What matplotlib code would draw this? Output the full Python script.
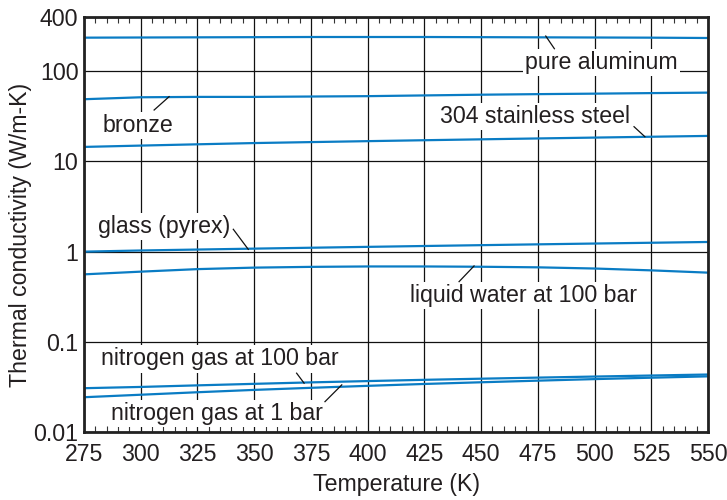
import numpy as np
import matplotlib
matplotlib.use("Agg")
import matplotlib.pyplot as plt
from matplotlib.ticker import FixedLocator, MultipleLocator, NullLocator

plt.rcParams['font.family'] = ['Liberation Sans', 'DejaVu Sans']

# temperature grid (K)
temps = [275, 300, 325, 350, 375, 400, 425, 450, 475, 500, 525, 550]

# thermal conductivity (W/m-K)
aluminum = [236, 237, 238, 239, 240, 240, 240, 239, 238, 237, 236, 234]
bronze = [49, 51.5, 52, 52, 52.5, 53, 54, 55, 55.8, 56.5, 57.3, 58]
steel_304 = [14.5, 15.0, 15.5, 16.0, 16.4, 16.8, 17.2, 17.6, 18.0, 18.4, 18.8, 19.2]
pyrex = [1.0, 1.03, 1.055, 1.08, 1.105, 1.13, 1.155, 1.18, 1.205, 1.23, 1.255, 1.28]
water_100bar = [0.56, 0.60, 0.64, 0.665, 0.678, 0.685, 0.685, 0.68, 0.67, 0.65, 0.62, 0.585]
n2_100bar = [0.0306, 0.0316, 0.0329, 0.0342, 0.0355, 0.0367, 0.0379, 0.0390, 0.0401, 0.0412, 0.0423, 0.0434]
n2_1bar = [0.0243, 0.0259, 0.0276, 0.0293, 0.0309, 0.0325, 0.0341, 0.0356, 0.0371, 0.0386, 0.0400, 0.0414]

series = [aluminum, bronze, steel_304, pyrex, water_100bar, n2_100bar, n2_1bar]

x_ticks = [275, 300, 325, 350, 375, 400, 425, 450, 475, 500, 525, 550]
y_ticks = [0.01, 0.1, 1, 10, 100, 400]
y_tick_labels = ['0.01', '0.1', '1', '10', '100', '400']

blue = '#0a7cc4'
txt = '#231f20'
fs = 16.7

fig = plt.figure(figsize=(7.27, 5.00), dpi=100)
ax = fig.add_axes([84/727, 1-432/500, (708-84)/727, (432-17)/500])

for s in series:
    ax.plot(temps, s, color=blue, lw=1.6, zorder=3)

ax.set_yscale('log')
ax.set_xlim(275, 550)
ax.set_ylim(0.01, 400)

ax.xaxis.set_major_locator(FixedLocator(x_ticks))
ax.xaxis.set_minor_locator(MultipleLocator(5))
ax.yaxis.set_major_locator(FixedLocator(y_ticks))
ax.yaxis.set_minor_locator(NullLocator())
ax.set_yticklabels(y_tick_labels)
ax.set_xticklabels([str(t) for t in x_ticks])

ax.grid(True, which='major', color='#111111', lw=0.9, zorder=1)
ax.tick_params(which='major', length=0, labelsize=fs, colors=txt)
ax.tick_params(axis='x', which='major', pad=8)
ax.tick_params(axis='y', which='major', pad=4)
ax.tick_params(which='minor', axis='x', direction='in', length=4, width=0.8,
               top=True, bottom=True, color='#333333')
for sp in ax.spines.values():
    sp.set_linewidth(2)
    sp.set_color('#222222')
    sp.set_zorder(5)

fig.text(396.7/727, 1-485/500, 'Temperature (K)', fontsize=fs, color=txt,
         ha='center', va='center')
fig.text(21/727, 1-235/500, 'Thermal conductivity (W/m-K)', fontsize=fs, color=txt,
         ha='center', va='center', rotation=90)

box = dict(facecolor='white', edgecolor='none', pad=1.5)

# (label, text position, leader start, leader end)
labels = [
    ('pure aluminum', (502.9, 124.5), (482.3, 178), (478.5, 246)),
    ('bronze', (298.6, 24.8), (305.9, 37.2), (312.5, 52.3)),
    ('304 stainless steel', (473.6, 31.4), (517.4, 24.3), (522.2, 18.8)),
    ('glass (pyrex)', (310.4, 1.89), (340.8, 1.77), (347.4, 1.06)),
    ('liquid water at 100 bar', (468.7, 0.323), (440.3, 0.465), (446.9, 0.694)),
    ('nitrogen gas at 100 bar', (334.9, 0.0646), (368.7, 0.0449), (372.0, 0.0348)),
    ('nitrogen gas at 1 bar', (333.5, 0.01615), (381.2, 0.0217), (388.6, 0.0333)),
]
for name, pos, p0, p1 in labels:
    ax.plot([p0[0], p1[0]], [p0[1], p1[1]], color='#111111', lw=0.9, zorder=4)
    ax.text(pos[0], pos[1], name, fontsize=fs, color=txt, ha='center', va='center',
            bbox=box, zorder=2)

fig.savefig('out.png', dpi=100)
